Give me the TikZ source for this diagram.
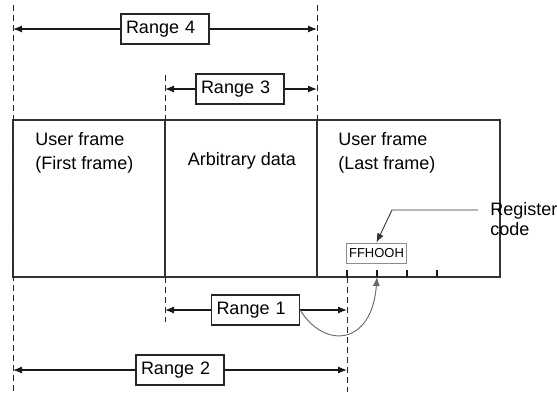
\documentclass[tikz,border=0pt]{standalone}
\usepackage{fontspec}
\setmainfont{Liberation Sans}
\usetikzlibrary{arrows.meta, positioning}

\begin{document}
\begin{tikzpicture}[x=0.5pt, y=-0.5pt, font=\fontsize{9}{12}\selectfont]
    \tikzset{
        cell/.style={rectangle, draw=black!80, line width=0.9pt, inner sep=0pt,
            minimum height=78.5pt},
        rangebox/.style={rectangle, draw=black!85, line width=0.6pt, fill=white,
            text width=39pt, align=left, inner xsep=2.5pt, minimum height=15pt},
        codebox/.style={rectangle, draw=black!45, line width=0.5pt, inner sep=1.5pt,
            minimum height=10pt, font=\fontsize{6.5}{7}\selectfont},
        guide/.style={black!85, line width=0.5pt, dash pattern=on 3pt off 2pt},
        dimline/.style={black!90, line width=0.6pt, -{Latex[length=4.5pt, width=3.5pt]}},
        tick/.style={black!90, line width=0.9pt},
        leader/.style={black!80, line width=0.45pt, -{Latex[length=4.5pt, width=3.5pt]}},
        jump/.style={black!60, line width=0.45pt, -{Latex[length=4.5pt, width=3.5pt]}},
        label/.style={inner sep=0pt, align=left}
    }
    \useasboundingbox (0,0) rectangle (557,392);

    \node[cell, minimum width=76pt] (first) at (89,198.5) {};
    \node[cell, minimum width=76pt] (arb) at (241,198.5) {};
    \node[cell, minimum width=91.5pt] (last) at (408.5,198.5) {};

    \node[label, anchor=north west] (firsttxt) at (35,132) {User frame\\(First frame)};
    \node[label, anchor=base] (arbtxt) at (242,165) {Arbitrary data};
    \node[label, anchor=north west] (lasttxt) at (338,132) {User frame\\(Last frame)};

    \coordinate (g4top) at (13,5);
    \coordinate (g4bot) at (13,392);
    \coordinate (g3top) at (317,5);
    \coordinate (g3bot) at (317,120);
    \coordinate (g2top) at (165,75);
    \coordinate (g2mid) at (165,120);
    \coordinate (g2low) at (165,277);
    \coordinate (g2bot) at (165,322);
    \coordinate (g1top) at (347,277);
    \coordinate (g1bot) at (347,392);
    \draw[guide] (g4top) -- (g4bot);
    \draw[guide] (g3top) -- (g3bot);
    \draw[guide] (g2top) -- (g2mid);
    \draw[guide] (g2low) -- (g2bot);
    \draw[guide] (g1top) -- (g1bot);

    \foreach \tx/\tn in {347/a, 377/b, 407/c, 437/d} {
        \coordinate (tick\tn) at (\tx,277);
        \draw[tick] (tick\tn) -- ++(0,-7);
    }

    \node[codebox] (ffh) at (376.5,253) {FFHOOH};
    \node[label, anchor=north west, font=\fontsize{9}{10}\selectfont] (regtxt) at (490,202) {Register\\code};
    \coordinate (regend) at (478,210);
    \coordinate (regbend) at (392,210);
    \draw[leader] (regend) -- (regbend) -- (ffh.north);

    \node[rangebox] (r4) at (165,29) {Range 4};
    \node[rangebox] (r3) at (240,89) {Range 3};
    \node[rangebox] (r1) at (255.5,310) {Range 1};
    \node[rangebox] (r2) at (180,370) {Range 2};

    \draw[dimline] (r4.west) -- (13,29);
    \draw[dimline] (r4.east) -- (317,29);
    \draw[dimline] (r3.west) -- (165,89);
    \draw[dimline] (r3.east) -- (317,89);
    \draw[dimline] (r1.west) -- (165,310);
    \draw[dimline] (r1.east) -- (347,310);
    \draw[dimline] (r2.west) -- (13,370);
    \draw[dimline] (r2.east) -- (347,370);

    \draw[jump] (r1.east) .. controls (325,350) and (372,345) .. (tickb);
\end{tikzpicture}
\end{document}
